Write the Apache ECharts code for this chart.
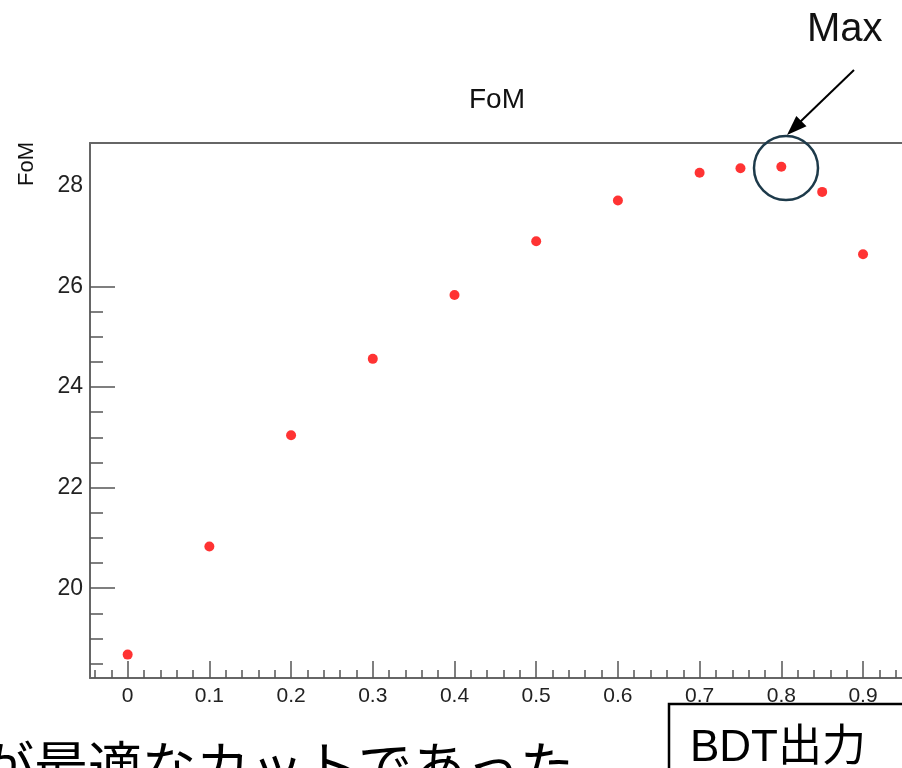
<!DOCTYPE html>
<html>
<head>
<meta charset="utf-8">
<script src="https://cdn.jsdelivr.net/npm/echarts@6/dist/echarts.min.js"></script>
<style>
  html, body { margin: 0; padding: 0; background: #fff; }
  #chart { width: 902px; height: 768px; }
</style>
</head>
<body>
<div id="chart"></div>
<script>
// BDT cut value vs FoM
var cutValues = [0, 0.1, 0.2, 0.3, 0.4, 0.5, 0.6, 0.7, 0.75, 0.8, 0.85, 0.9];
var fomValues = [18.68, 20.83, 23.04, 24.56, 25.83, 26.90, 27.71, 28.26, 28.35, 28.38, 27.88, 26.64];

var xTicks = [0, 0.1, 0.2, 0.3, 0.4, 0.5, 0.6, 0.7, 0.8, 0.9];
var yLabels = [20, 22, 24, 26, 28];
var yTicks = [20, 22, 24, 26];

// minor ticks every 0.02 on x, every 0.5 on y (y ticks stop at 26 in the original)
var xMinor = [];
for (var i = -2; i <= 47; i++) {
  if (i % 5 !== 0) xMinor.push(i / 50);
}
var yMinor = [];
for (var j = 37; j <= 51; j++) {
  if (j % 4 !== 0) yMinor.push(j / 2);
}

var xMin = -0.0461, xMax = 0.9477;
var yMin = 18.215, yMax = 28.852;

var tickColor = '#555';
var lineColor = '#666';
var font = '"Liberation Sans", Arial, sans-serif';
var jpFont = '"Liberation Sans", "Noto Sans CJK JP", sans-serif';

var chart = echarts.init(document.getElementById('chart'));

var option = {
  animation: false,
  backgroundColor: '#fff',
  grid: { left: 90, top: 143, right: 0, bottom: 90 },
  xAxis: [
    {
      type: 'value', position: 'bottom', min: xMin, max: xMax,
      axisLine: { show: true, onZero: false, lineStyle: { color: lineColor, width: 2 } },
      splitLine: { show: false },
      axisTick: { inside: true, length: 17, customValues: xTicks,
        lineStyle: { color: tickColor, width: 1.5 } },
      axisLabel: { customValues: xTicks, margin: 8, color: '#222',
        fontSize: 21, fontFamily: font }
    },
    {
      type: 'value', position: 'bottom', min: xMin, max: xMax,
      axisLine: { show: false, onZero: false },
      splitLine: { show: false },
      axisTick: { inside: true, length: 8, customValues: xMinor,
        lineStyle: { color: tickColor, width: 1.5 } },
      axisLabel: { show: false }
    },
    {
      type: 'value', position: 'top', min: xMin, max: xMax,
      axisLine: { show: true, onZero: false, lineStyle: { color: lineColor, width: 2 } },
      splitLine: { show: false },
      axisTick: { show: false },
      axisLabel: { show: false }
    }
  ],
  yAxis: [
    {
      type: 'value', position: 'left', min: yMin, max: yMax,
      axisLine: { show: true, onZero: false, lineStyle: { color: lineColor, width: 2 } },
      splitLine: { show: false },
      axisTick: { inside: true, length: 25, customValues: yTicks,
        lineStyle: { color: tickColor, width: 1.5 } },
      axisLabel: { customValues: yLabels, margin: 7, color: '#222',
        fontSize: 23, fontFamily: font }
    },
    {
      type: 'value', position: 'left', min: yMin, max: yMax,
      axisLine: { show: false, onZero: false },
      splitLine: { show: false },
      axisTick: { inside: true, length: 13, customValues: yMinor,
        lineStyle: { color: tickColor, width: 1.5 } },
      axisLabel: { show: false }
    }
  ],
  series: [
    {
      type: 'scatter',
      xAxisIndex: 0, yAxisIndex: 0,
      symbol: 'circle', symbolSize: 10,
      itemStyle: { color: '#ff0000' },
      data: cutValues.map(function (x, k) { return [x, fomValues[k]]; })
    }
  ],
  graphic: [
    { type: 'text', z: 100, x: 497, y: 100,
      style: { text: 'FoM', font: '28px ' + font, fill: '#111',
        textAlign: 'center', textVerticalAlign: 'middle' } },
    { type: 'text', z: 100, x: 27, y: 164, rotation: Math.PI / 2,
      style: { text: 'FoM', font: '22px ' + font, fill: '#111',
        textAlign: 'center', textVerticalAlign: 'middle' } },
    // hand-drawn "Max" annotation
    { type: 'circle', z: 100, shape: { cx: 786, cy: 168, r: 32 },
      style: { fill: 'none', stroke: '#1d3a4a', lineWidth: 2.5 } },
    { type: 'line', z: 100, shape: { x1: 854, y1: 70, x2: 800, y2: 122 },
      style: { stroke: '#000', lineWidth: 2 } },
    { type: 'polygon', z: 100,
      shape: { points: [[787, 135], [806.5, 126.3], [796.3, 115.9]] },
      style: { fill: '#000' } },
    { type: 'text', z: 100, x: 807, y: 30,
      style: { text: 'Max', font: '40px ' + font, fill: '#111',
        textAlign: 'left', textVerticalAlign: 'middle' } },
    // slide label box
    { type: 'rect', z: 100, shape: { x: 669, y: 704, width: 300, height: 120 },
      style: { fill: '#fff', stroke: '#000', lineWidth: 2.5 } },
    { type: 'text', z: 101, x: 690, y: 749,
      style: { text: 'BDT出力', font: '44px ' + jpFont, fill: '#000',
        textAlign: 'left', textVerticalAlign: 'middle' } },
    { type: 'text', z: 100, x: -20, y: 766,
      style: { text: 'が最適なカットであった', font: '54px "Noto Sans CJK JP", sans-serif',
        fill: '#000', textAlign: 'left', textVerticalAlign: 'middle' } }
  ]
};

chart.setOption(option);
</script>
</body>
</html>
